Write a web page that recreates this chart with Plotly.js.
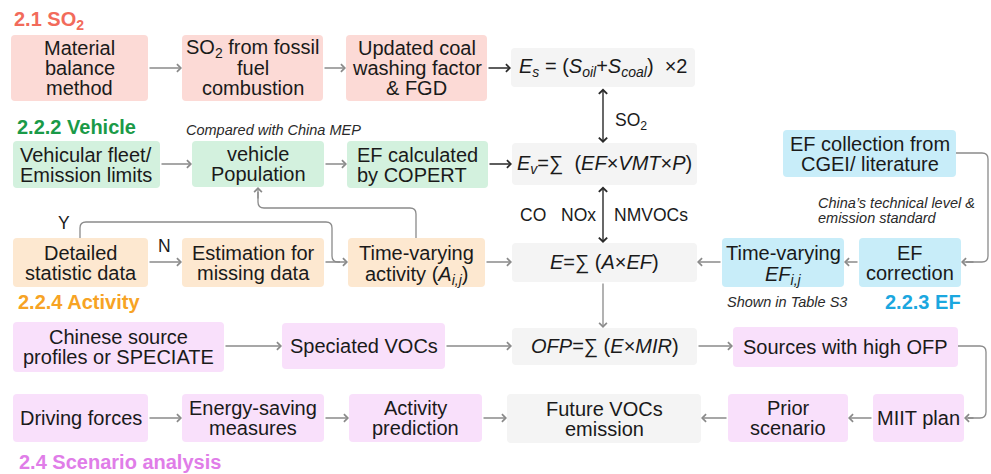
<!DOCTYPE html>
<html><head><meta charset="utf-8">
<script src="https://cdn.plot.ly/plotly-3.0.1.min.js"></script>
<style>html,body{margin:0;padding:0;background:#fff}#chart{width:991px;height:474px}</style>
</head><body><div id="chart"></div>
<script>
// ---------- content ----------
const nodeIds = ['mat','so2f','coal','es','fleet','pop','copert','ev','detail','estim','act','e',
  'efcol','efcor','eftv','prof','spec','ofp','high','drive','energy','actpred','future','prior','miit'];
const nodeText = [
  ['Material','balance','method'],
  ['SO<sub>2</sub> from fossil','fuel','combustion'],
  ['Updated coal','washing factor','& FGD'],
  ['<i>E<sub>s</sub></i> = (<i>S<sub>oil</sub></i>+<i>S<sub>coal</sub></i>)  ×2'],
  ['Vehicular fleet/','Emission limits'],
  ['vehicle','Population'],
  ['EF calculated','by COPERT'],
  ['<i>E<sub>v</sub></i>=∑  (<i>EF</i>×<i>VMT</i>×<i>P</i>)'],
  ['Detailed','statistic data'],
  ['Estimation for','missing data'],
  ['Time-varying','activity (<i>A<sub>i,j</sub></i>)'],
  ['<i>E</i>=∑ (<i>A</i>×<i>EF</i>)'],
  ['EF collection from','CGEI/ literature'],
  ['EF','correction'],
  ['Time-varying','<i>EF<sub>i,j</sub></i>'],
  ['Chinese source','profiles or SPECIATE'],
  ['Speciated VOCs'],
  ['<i>OFP</i>=∑ (<i>E</i>×<i>MIR</i>)'],
  ['Sources with high OFP'],
  ['Driving forces'],
  ['Energy-saving','measures'],
  ['Activity','prediction'],
  ['Future VOCs','emission'],
  ['Prior','scenario'],
  ['MIIT plan']
];
const nodeGroup = ['so2','so2','so2','eq','veh','veh','veh','eq','act','act','act','eq',
  'ef','ef','ef','voc','voc','eq','voc','voc','voc','voc','eq','voc','voc'];
const sectionTitles = ['2.1 SO<sub>2</sub>','2.2.2 Vehicle','2.2.4 Activity','2.2.3 EF','2.4 Scenario analysis'];
const sectionGroup = ['so2','veh','act','ef','voc'];
const noteTexts = ['Compared with China MEP','China’s technical level &','emission standard','Shown in Table S3'];
const flowLabels = ['Y','N','SO<sub>2</sub>','CO','NOx','NMVOCs'];

// ---------- layout geometry (pixels) ----------
const geom = {
  mat:[11,148,35,101], so2f:[182,323,35,101], coal:[346,487,35,101], es:[511,695,48,87],
  fleet:[13,160,141,188], pop:[192,324,141,187], copert:[347,488,141,188], ev:[512,697,143,185],
  detail:[13,148,238,287], estim:[182,324,238,287], act:[348,485,238,287], e:[512,697,243,282],
  efcol:[783,956,130,177], efcor:[859,961,238,287], eftv:[722,844,238,287],
  prof:[13,224,322,372], spec:[282,445,323,369], ofp:[512,697,328,365], high:[733,958,327,367],
  drive:[13,148,394,442], energy:[182,324,394,442], actpred:[349,482,394,442],
  future:[507,701,394,443], prior:[728,848,394,442], miit:[873,964,394,442]
};
const leftAlign = {fleet:19, copert:356};
const fills = {so2:'#fcdad6', veh:'#d3f1de', act:'#fde8d0', ef:'#c8edf9', voc:'#f9e0fb', eq:'#f4f4f4'};
const titleColors = {so2:'#f26b5b', veh:'#1a9a48', act:'#f7a324', ef:'#1ba7df', voc:'#e07de8'};
const titlePos = [[12,20],[15,127],[16,302],[883,302],[17,462]];
const notePos = [[185,130],[817,203],[817,218],[726,302]];
const labelPos = [[64,223,'center'],[164,246,'center'],[613,121,'left'],[533,215,'center'],[578,215,'center'],[651,215,'center']];

const FONT = 'Arial, "Liberation Sans", sans-serif';
const GREY = '#8a8a8a', DARK = '#2a2a2a';

function rr(x0,x1,y0,y1,r){
  return `M${x0+r},${y0} L${x1-r},${y0} Q${x1},${y0} ${x1},${y0+r} L${x1},${y1-r} Q${x1},${y1} ${x1-r},${y1} L${x0+r},${y1} Q${x0},${y1} ${x0},${y1-r} L${x0},${y0+r} Q${x0},${y0} ${x0+r},${y0} Z`;
}
function poly(pts,r){
  let d = `M${pts[0][0]},${pts[0][1]}`;
  for(let i=1;i<pts.length-1;i++){
    const [px,py]=pts[i-1],[cx,cy]=pts[i],[nx,ny]=pts[i+1];
    const d1=Math.hypot(cx-px,cy-py), d2=Math.hypot(nx-cx,ny-cy);
    const ax=cx-(cx-px)/d1*r, ay=cy-(cy-py)/d1*r;
    const bx=cx+(nx-cx)/d2*r, by=cy+(ny-cy)/d2*r;
    d += ` L${ax},${ay} Q${cx},${cy} ${bx},${by}`;
  }
  const l=pts[pts.length-1];
  d += ` L${l[0]},${l[1]}`;
  return d;
}

const shapes = [], annotations = [];

nodeIds.forEach((id,i)=>{
  const [x0,x1,y0,y1] = geom[id];
  shapes.push({type:'path', xref:'x', yref:'y', path:rr(x0,x1,y0,y1,4), fillcolor:fills[nodeGroup[i]], line:{width:0}, layer:'below'});
  const lines = nodeText[i], n = lines.length, cy=(y0+y1)/2, cx=(x0+x1)/2;
  lines.forEach((t,k)=>{
    const la = leftAlign[id];
    const yc = cy+(k-(n-1)/2)*20;
    const subLast = n>1 && k===n-1 && t.indexOf('<sub>')>=0;
    annotations.push({x: la!==undefined?la:cx, y: subLast? yc-11 : yc, xref:'x', yref:'y', text:t, showarrow:false,
      xanchor: la!==undefined?'left':'center', yanchor: subLast?'top':'middle', borderpad:0,
      font:{family:FONT,size:20,color:'#1a1a1a'}});
  });
});

sectionTitles.forEach((t,i)=>{
  annotations.push({x:titlePos[i][0], y:titlePos[i][1], xref:'x', yref:'y', text:'<b>'+t+'</b>', showarrow:false,
    xanchor:'left', yanchor:'middle', font:{family:FONT,size:20,color:titleColors[sectionGroup[i]]}});
});
noteTexts.forEach((t,i)=>{
  annotations.push({x:notePos[i][0], y:notePos[i][1], xref:'x', yref:'y', text:'<i>'+t+'</i>', showarrow:false,
    xanchor:'left', yanchor:'middle', borderpad:0, font:{family:FONT,size:14.5,color:'#2a2a2a'}});
});
flowLabels.forEach((t,i)=>{
  annotations.push({x:labelPos[i][0], y:labelPos[i][1], xref:'x', yref:'y', text:t, showarrow:false,
    xanchor:labelPos[i][2], yanchor:'middle', font:{family:FONT,size:17.5,color:'#1a1a1a'}});
});

// straight arrows: [tailX, tailY, headX, headY, color]
const arrows = [
  [148,68,182,68,GREY],[323,68,346,68,GREY],[487,68,511,68,DARK],
  [160,164,192,164,GREY],[324,164,347,164,GREY],[488,164,512,164,DARK],
  [148,262,182,262,GREY],[324,262,348,262,GREY],[485,262,512,262,GREY],
  [859,262,844,262,GREY],[722,262,697,262,GREY],
  [224,346,282,346,GREY],[445,346,512,346,GREY],[697,346,733,346,GREY],[603,282,603,328,GREY],
  [148,418,182,418,GREY],[324,418,349,418,GREY],[482,418,507,418,GREY],
  [728,418,701,418,GREY],[873,418,848,418,GREY],
  [258,200,258,187,GREY],[975,262,961,262,GREY],[975,418,964,418,GREY]
];
arrows.forEach(a=>{
  annotations.push({x:a[2], y:a[3], ax:a[0], ay:a[1], xref:'x', yref:'y', axref:'x', ayref:'y', text:'',
    showarrow:true, arrowhead:4, arrowsize:1.15, arrowwidth:1.3, arrowcolor:a[4], standoff:0, startstandoff:0});
});
// double arrows
[[603,87,603,143],[603,185,603,243]].forEach(a=>{
  annotations.push({x:a[2], y:a[3], ax:a[0], ay:a[1], xref:'x', yref:'y', axref:'x', ayref:'y', text:'',
    showarrow:true, arrowside:'end+start', arrowhead:4, startarrowhead:4, arrowsize:1.15, startarrowsize:1.15,
    arrowwidth:1.4, arrowcolor:DARK, standoff:0, startstandoff:0});
});
// routed connectors
const connectors = [
  [[80,238],[80,222],[332,222],[332,262],[340,262]],
  [[416,238],[416,208],[258,208],[258,192]],
  [[956,153],[988,153],[988,262],[966,262]],
  [[958,346],[986,346],[986,418],[968,418]]
];
connectors.forEach(p=>{
  shapes.push({type:'path', xref:'x', yref:'y', path:poly(p,6), line:{color:GREY,width:1.3}});
});

const data = [{x:[0,991], y:[0,474], mode:'markers', marker:{opacity:0}, hoverinfo:'skip', showlegend:false}];
const layout = {
  width:991, height:474, margin:{l:0,r:0,t:0,b:0}, paper_bgcolor:'#fff', plot_bgcolor:'#fff',
  xaxis:{range:[0,991], visible:false, fixedrange:true},
  yaxis:{range:[474,0], visible:false, fixedrange:true},
  shapes, annotations, showlegend:false
};
Plotly.newPlot('chart', data, layout, {displayModeBar:false, staticPlot:true});
</script></body></html>
